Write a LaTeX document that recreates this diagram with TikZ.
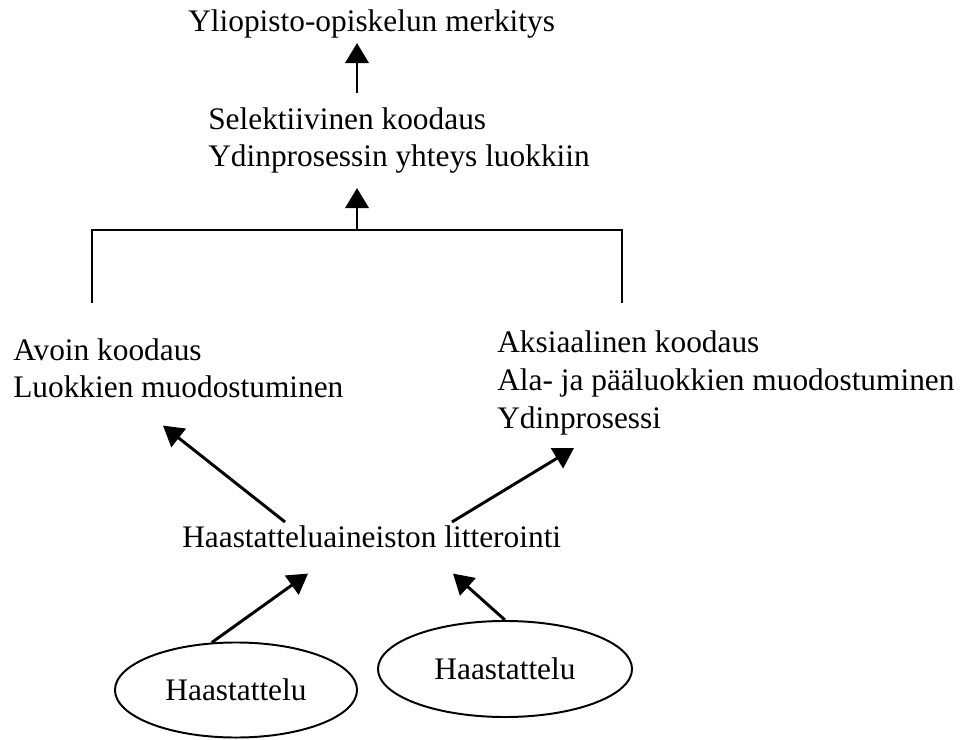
\documentclass[tikz,border=0pt]{standalone}
\usepackage{fontspec}
\setmainfont{Liberation Serif}
\usetikzlibrary{shapes.geometric, arrows.meta, positioning, calc}
\tikzset{every node/.style={ % Plain text, no padding
inner sep=0pt,
font=\fontsize{22.3}{27}\selectfont},
txt/.style={align=left, anchor=base west}, % Text blocks, placed by last baseline
haast/.style={ % The two interview ovals
ellipse, draw, line width=1.4pt},
arr/.style={ % Filled triangle heads
-{Triangle[length=0.5cm,width=0.58cm]}, line width=2.1pt},
bracket/.style={line width=2.1pt}}

\begin{document}
\begin{tikzpicture}[x=0.025cm, y=-0.025cm]
    \useasboundingbox (0,0) rectangle (971,740);

    \node[txt] (merk) at (188,32) {Yliopisto-opiskelun merkitys};
    \node[txt] (sel) at (208,167) {Selektiivinen koodaus\\Ydinprosessin yhteys luokkiin};
    \node[txt] (avoin) at (13,398) {Avoin koodaus\\Luokkien muodostuminen};
    \node[txt] (aks) at (497,428) {Aksiaalinen koodaus\\Ala- ja pääluokkien muodostuminen\\Ydinprosessi};
    \node[txt] (litt) at (182,547) {Haastatteluaineiston litterointi};
    \node[haast, minimum width=6.05cm, minimum height=2.375cm] (h1) at (236,690) {Haastattelu};
    \node[haast, minimum width=6.35cm, minimum height=2.4cm] (h2) at (505,669) {Haastattelu};

    \coordinate (junc) at (357,230);
    \coordinate (bl) at (92,303);
    \coordinate (br) at (622,303);
    \draw[bracket] (bl) |- (junc) -| (br);

    \draw[arr, shorten >=0.35cm] (junc) -- (junc |- sel.south);
    \draw[arr, shorten <=0.36cm, shorten >=0.1cm] (sel.north -| junc) -- (merk.south -| junc);

    \draw[arr] ([shift={(103,-3)}]litt.north west) -- ([shift={(150,27)}]avoin.south west);
    \draw[arr] ([shift={(270,-3)}]litt.north west) -- ([shift={(77,13)}]aks.south west);

    \draw[arr] (h1.117) -- ([shift={(126,26)}]litt.south west);
    \draw[arr] (h2.north) -- ([shift={(271,26)}]litt.south west);
    
\end{tikzpicture}
\end{document}
